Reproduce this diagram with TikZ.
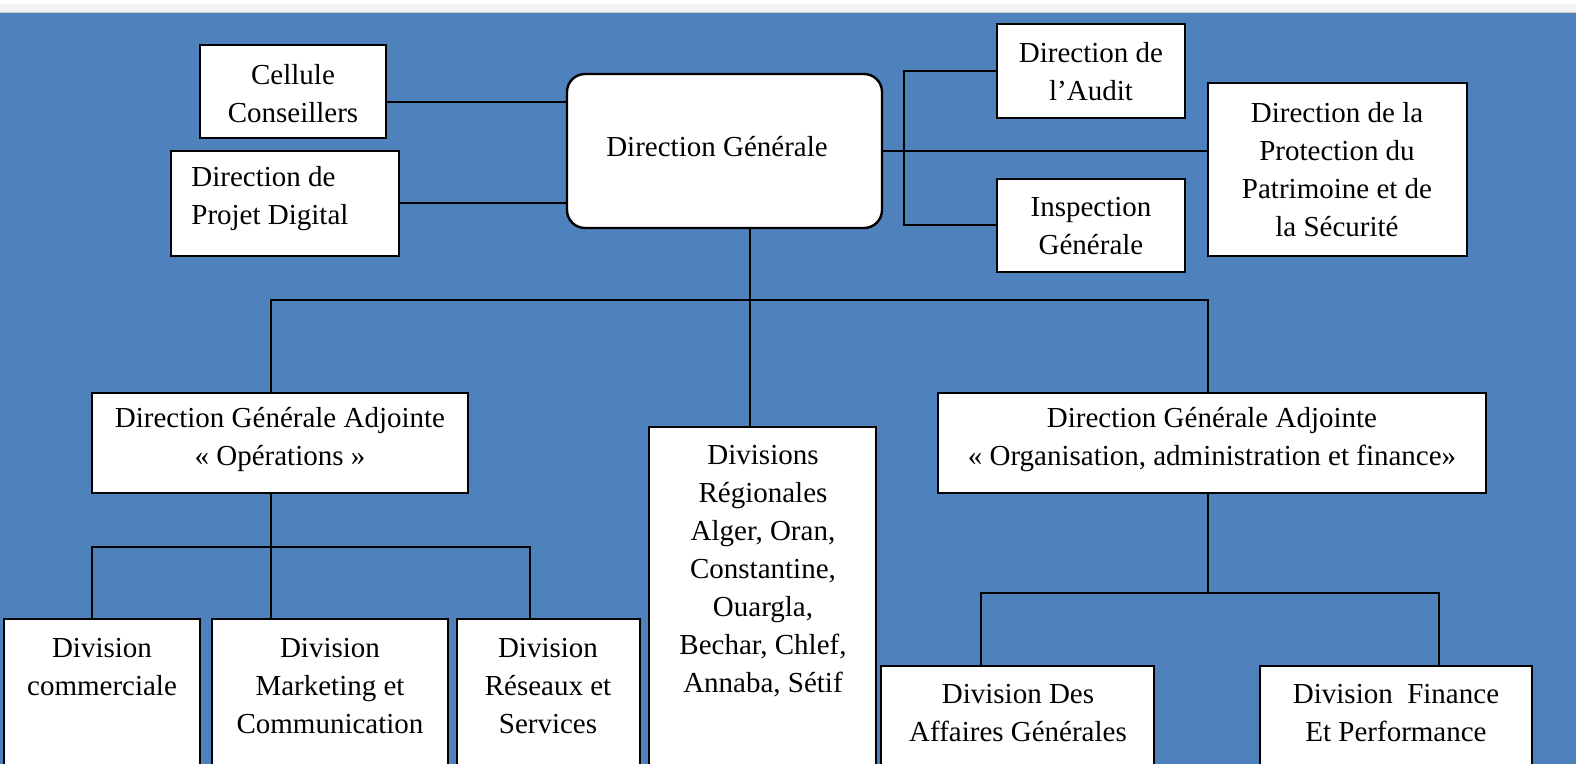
\documentclass[tikz,border=0pt]{standalone}
\usepackage{fontspec}
\setmainfont{Liberation Serif}
\definecolor{bg}{RGB}{79,129,189}
\definecolor{strip}{RGB}{242,242,242}
\definecolor{stripline}{RGB}{205,205,205}
\newcommand\mkbox[6][]{\node[box,#1,anchor=north west,minimum width={(#4-#2)*0.5pt},minimum height={(#5-#3)*0.5pt}] (#6) at (#2,#3) {};}
\begin{document}
\begin{tikzpicture}[x=0.5pt,y=-0.5pt,
  box/.style={draw=black,line width=1.2pt,fill=white,rectangle,inner sep=0pt,outer sep=0pt},
  txt/.style={align=center,font=\fontsize{14.5}{19}\selectfont,inner sep=0pt},
  conn/.style={draw=black,line width=1pt}]
\useasboundingbox (0,0) rectangle (1576,764);
\clip (0,0) rectangle (1576,764);
\fill[white] (0,0) rectangle (1576,4);
\fill[strip] (0,4) rectangle (1576,12);
\fill[stripline] (0,12) rectangle (1576,13.5);
\fill[bg] (0,13.5) rectangle (1576,764);

% boxes
\mkbox{200}{45}{386}{138}{cel}
\mkbox{171}{151}{399}{256}{pd}
\mkbox[rounded corners=9pt]{567}{74}{882}{228}{dg}
\mkbox{997}{24}{1185}{118}{audit}
\mkbox{997}{179}{1185}{272}{insp}
\mkbox{1208}{83}{1467}{256}{dpps}
\mkbox{92}{393}{468}{493}{op}
\mkbox{649}{427}{876}{820}{dr}
\mkbox{938}{393}{1486}{493}{oaf}
\mkbox{4}{619}{200}{820}{com}
\mkbox{212}{619}{448}{820}{mkt}
\mkbox{457}{619}{640}{820}{res}
\mkbox{881}{666}{1154}{820}{aff}
\mkbox{1260}{666}{1532}{820}{fin}

% texts
\node[txt] (tcel) at (293,93.5) {Cellule\\Conseillers};
\node[txt,align=left,anchor=west] (tpd) at (191,199) {Direction de\\Projet Digital};
\node[txt] (tdg) at (717,147) {Direction Générale};
\node[txt] (taudit) at (1091,72) {Direction de\\l’Audit};
\node[txt] (tinsp) at (1091,226) {Inspection\\Générale};
\node[txt] (tdpps) at (1337,170) {Direction de la\\Protection du\\Patrimoine et de\\la Sécurité};
\node[txt] (top) at (280,440) {Direction Générale Adjointe\\« Opérations »};
\node[txt] (tdr) at (763,571) {Divisions\\Régionales\\Alger, Oran,\\Constantine,\\Ouargla,\\Bechar, Chlef,\\Annaba, Sétif};
\node[txt] (toaf) at (1212,440) {Direction Générale Adjointe\\« Organisation, administration et finance»};
\node[txt] (tcom) at (102,667) {Division\\commerciale};
\node[txt] (tmkt) at (330,686) {Division\\Marketing et\\Communication};
\node[txt] (tres) at (548,686) {Division\\Réseaux et\\Services};
\node[txt] (taff) at (1018,713) {Division Des\\Affaires Générales};
\node[txt] (tfin) at (1396,713) {Division\ \ Finance\\Et Performance};

% helper coordinates
\coordinate (lc) at (0,102);
\coordinate (trunk) at (750,300);
\coordinate (busL) at (271,300);
\coordinate (busR) at (1208,300);
\coordinate (opbus) at (271,547);
\coordinate (oafbus) at (1208,593);

% connectors
\draw[conn] (cel.east |- lc) -- (dg.west |- lc);
\draw[conn] (pd.east) -- (pd.east -| dg.west);
\draw[conn] (dg.east) -- (dg.east -| dpps.west);
\draw[conn] (audit.west) -- ++(-93,0) |- (insp.west);
\draw[conn] (trunk |- dg.south) -- (trunk |- dr.north);
\draw[conn] (busL |- op.north) -- (busL) -- (busR) -- (busR |- oaf.north);
\draw[conn] (opbus |- op.south) -- (opbus);
\draw[conn] (92,619 |- com.north) -- (92,547) -- (530,547) -- (530,619 |- res.north);
\draw[conn] (opbus) -- (opbus |- mkt.north);
\draw[conn] (oafbus |- oaf.south) -- (oafbus);
\draw[conn] (981,666 |- aff.north) -- (981,593) -- (1439,593) -- (1439,666 |- fin.north);
\end{tikzpicture}
\end{document}
